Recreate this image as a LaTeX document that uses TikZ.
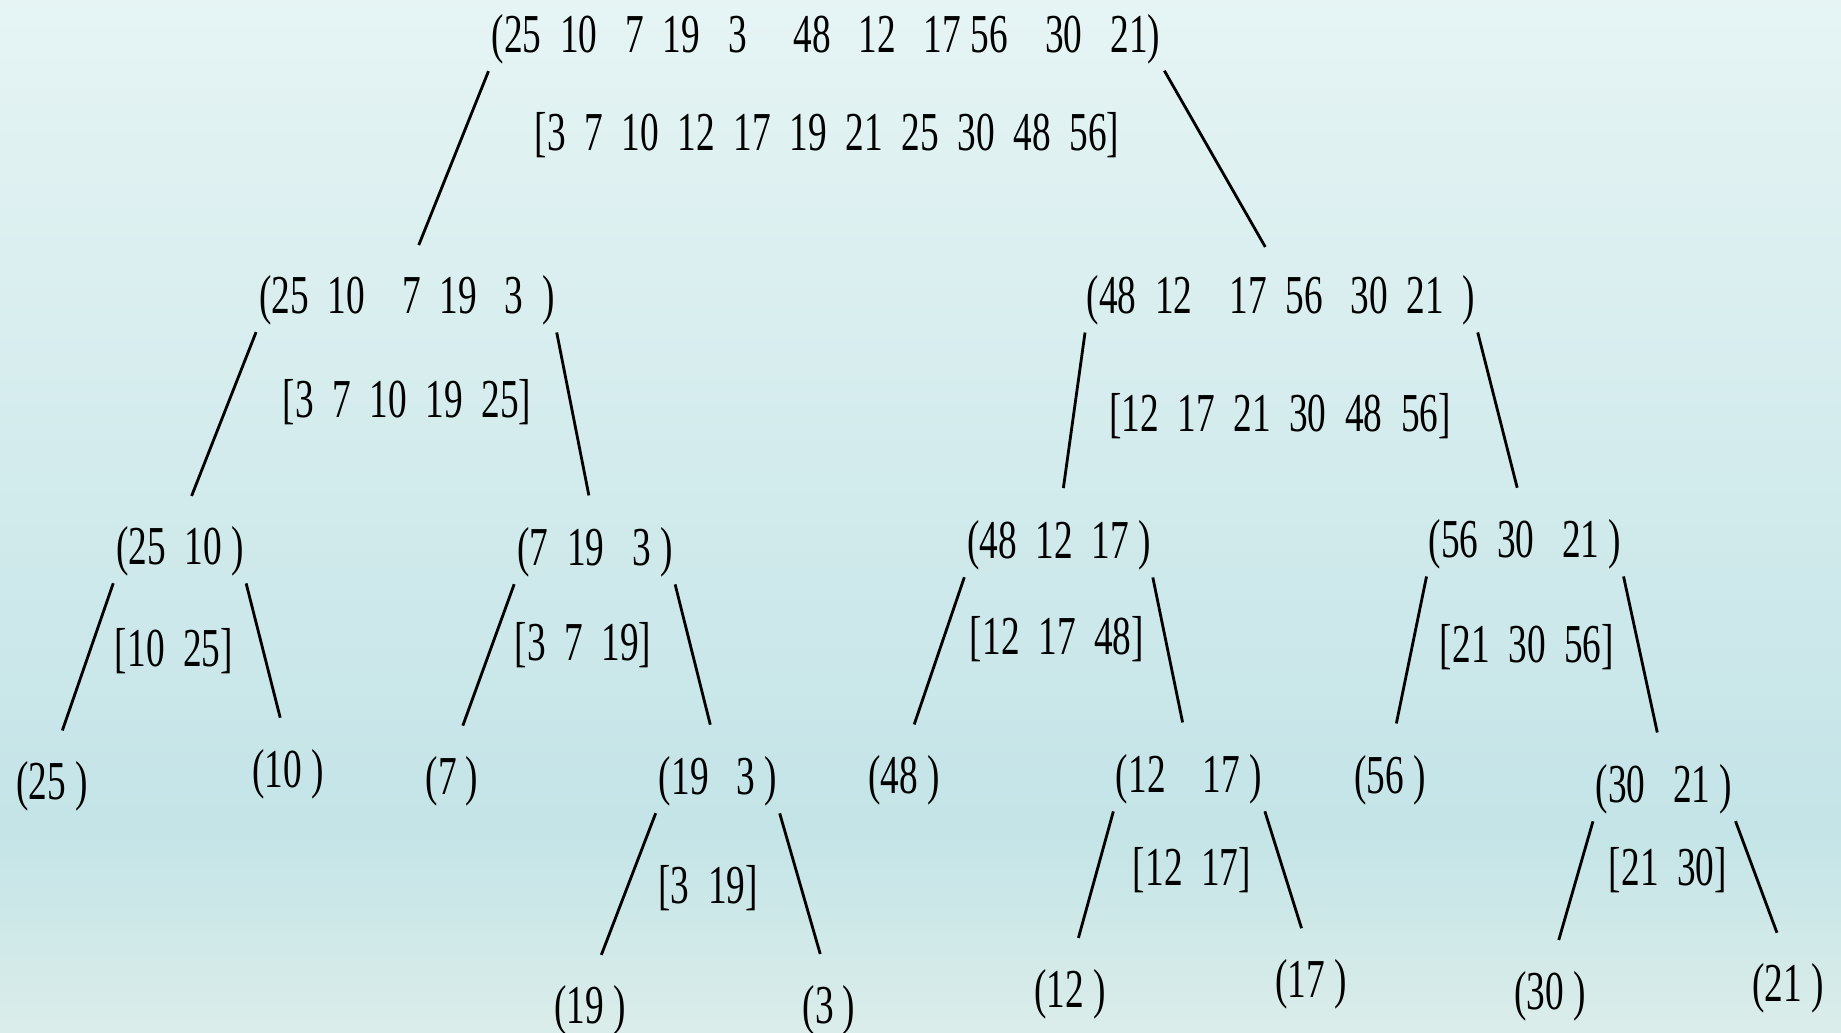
\documentclass[tikz,border=0pt]{standalone}
\usepackage{fontspec}
\usepackage{xcolor}
\usepackage{tikz}
\newfontfamily\seqfont[FakeStretch=0.68]{Liberation Serif}
\definecolor{bgtop}{HTML}{E6F4F4}
\definecolor{bgmid}{HTML}{C4E4E7}
\definecolor{bgbot}{HTML}{DBEDEA}

\begin{document}
\begin{tikzpicture}[
        x=0.01cm, y=-0.01cm,
        seq/.style={inner sep=0pt, font=\seqfont\fontsize{15.6}{18}\selectfont},
        branch/.style={thick, shorten <=2pt, shorten >=9pt}
    ]

    \useasboundingbox (0,0) rectangle (1841,1033);
    \shade[top color=bgtop, bottom color=bgmid] (0,0) rectangle (1841,830);
    \shade[top color=bgmid, bottom color=bgbot] (0,830) rectangle (1841,1033);

    % split sequences
    \node (r) [seq] at (826,39) {(25~~10~~~7~~19~~~3~~~~~48~~~12~~~17~56~~~~30~~~21)};
    \node (rl) [seq] at (407,300) {(25~~10~~~~7~~19~~~3~~)};
    \node (rr) [seq] at (1281,300) {(48~~12~~~~17~~56~~~30~~21~~)};
    \node (rll) [seq] at (180,551) {(25~~10~)};
    \node (rlr) [seq] at (595,552) {(7~~19~~~3~)};
    \node (rrl) [seq] at (1059,545) {(48~~12~~17~)};
    \node (rrr) [seq] at (1525,544) {(56~~30~~~21~)};
    \node (rlll) [seq] at (52,786) {(25~)};
    \node (rllr) [seq] at (288,774) {(10~)};
    \node (rlrl) [seq] at (452,781) {(7~)};
    \node (rlrr) [seq] at (718,781) {(19~~~3~)};
    \node (rrll) [seq] at (904,780) {(48~)};
    \node (rrlr) [seq] at (1189,779) {(12~~~~17~)};
    \node (rrrl) [seq] at (1390,780) {(56~)};
    \node (rrrr) [seq] at (1664,789) {(30~~~21~)};
    \node (rlrrl) [seq] at (590,1010) {(19~)};
    \node (rlrrr) [seq] at (829,1010) {(3~)};
    \node (rrlrl) [seq] at (1070,994) {(12~)};
    \node (rrlrr) [seq] at (1311,984) {(17~)};
    \node (rrrrl) [seq] at (1550,996) {(30~)};
    \node (rrrrr) [seq] at (1788,988) {(21~)};

    % merged results
    \node (r-m) [seq] at (827,135) {[3~~7~~10~~12~~17~~19~~21~~25~~30~~48~~56]};
    \node (rl-m) [seq] at (407,402) {[3~~7~~10~~19~~25]};
    \node (rr-m) [seq] at (1280,416) {[12~~17~~21~~30~~48~~56]};
    \node (rll-m) [seq] at (174,651) {[10~~25]};
    \node (rlr-m) [seq] at (583,645) {[3~~7~~19]};
    \node (rrl-m) [seq] at (1057,639) {[12~~17~~48]};
    \node (rrr-m) [seq] at (1527,647) {[21~~30~~56]};
    \node (rlrr-m) [seq] at (708,888) {[3~~19]};
    \node (rrlr-m) [seq] at (1192,870) {[12~~17]};
    \node (rrrr-m) [seq] at (1668,870) {[21~~30]};

    % branches
    \draw[branch] (r.south west) -- (rl.north);
    \draw[branch] (r.south east) -- (rr.north);
    \draw[branch] (rl.south west) -- (rll.north);
    \draw[branch] (rl.south east) -- (rlr.north);
    \draw[branch] (rr.south west) -- (rrl.north);
    \draw[branch] (rr.south east) -- (rrr.north);
    \draw[branch] (rll.south west) -- (rlll.north);
    \draw[branch] (rll.south east) -- (rllr.north);
    \draw[branch] (rlr.south west) -- (rlrl.north);
    \draw[branch] (rlr.south east) -- (rlrr.north);
    \draw[branch] (rrl.south west) -- (rrll.north);
    \draw[branch] (rrl.south east) -- (rrlr.north);
    \draw[branch] (rrr.south west) -- (rrrl.north);
    \draw[branch] (rrr.south east) -- (rrrr.north);
    \draw[branch] (rlrr.south west) -- (rlrrl.north);
    \draw[branch] (rlrr.south east) -- (rlrrr.north);
    \draw[branch] (rrlr.south west) -- (rrlrl.north);
    \draw[branch] (rrlr.south east) -- (rrlrr.north);
    \draw[branch] (rrrr.south west) -- (rrrrl.north);
    \draw[branch] (rrrr.south east) -- (rrrrr.north);

\end{tikzpicture}
\end{document}
